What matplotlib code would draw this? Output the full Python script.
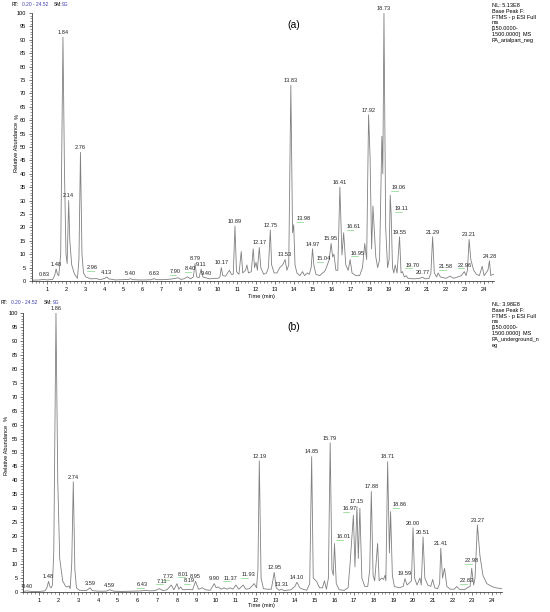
import numpy as np
import matplotlib
matplotlib.use("Agg")
import matplotlib.pyplot as plt
from matplotlib.ticker import MultipleLocator

plt.rcParams['font.family'] = ['Liberation Sans', 'DejaVu Sans']

# ---- panel (a): aerial part, retention time (min) / relative abundance (%)
rt_a = [0.20, 0.60, 0.83, 1.00, 1.30, 1.40, 1.48, 1.55, 1.62, 1.72, 1.84, 1.92, 2.00, 2.06,
        2.14, 2.20, 2.30, 2.45, 2.60, 2.68, 2.76, 2.84, 2.92, 2.96, 3.05, 3.30, 3.60, 3.80,
        4.05, 4.13, 4.25, 4.60, 5.00, 5.30, 5.40, 5.50, 5.90, 6.20, 6.50, 6.63, 6.75, 7.10,
        7.50, 7.70, 7.90, 8.05, 8.20, 8.40, 8.55, 8.70, 8.79, 8.88, 9.00, 9.11, 9.20, 9.40,
        9.55, 9.80, 10.00, 10.10, 10.17, 10.25, 10.40, 10.50, 10.60, 10.70, 10.80, 10.89,
        10.97, 11.10, 11.22, 11.30, 11.45, 11.52, 11.60, 11.75, 11.85, 11.92, 12.00, 12.07,
        12.17, 12.25, 12.40, 12.55, 12.65, 12.75, 12.82, 12.95, 13.10, 13.25, 13.40, 13.53,
        13.62, 13.72, 13.83, 13.92, 13.98, 14.05, 14.15, 14.30, 14.45, 14.55, 14.70, 14.80,
        14.90, 14.97, 15.04, 15.15, 15.35, 15.50, 15.60, 15.70, 15.85, 15.95, 16.03, 16.10,
        16.20, 16.30, 16.41, 16.52, 16.61, 16.72, 16.85, 16.95, 17.05, 17.25, 17.45, 17.60,
        17.72, 17.82, 17.92, 18.00, 18.08, 18.15, 18.30, 18.40, 18.50, 18.56, 18.62, 18.67,
        18.73, 18.82, 18.92, 19.00, 19.06, 19.11, 19.18, 19.25, 19.32, 19.42, 19.55, 19.63,
        19.70, 19.80, 19.90, 20.00, 20.30, 20.60, 20.77, 20.90, 21.10, 21.20, 21.29, 21.38,
        21.50, 21.58, 21.70, 22.00, 22.20, 22.40, 22.60, 22.80, 22.96, 23.05, 23.12, 23.21,
        23.30, 23.45, 23.60, 23.75, 23.90, 24.00, 24.10, 24.20, 24.28, 24.35, 24.45, 24.52]
ab_a = [0.3, 0.4, 0.6, 0.4, 0.6, 2.0, 4.5, 2.5, 2.0, 10.0, 91.0, 40.0, 10.0, 6.5,
        30.0, 15.0, 6.0, 2.5, 1.0, 8.0, 48.0, 10.0, 3.0, 2.5, 1.5, 0.8, 0.9, 0.5,
        1.0, 1.5, 0.8, 0.4, 0.5, 0.6, 0.9, 0.5, 0.4, 0.4, 0.5, 0.9, 0.5, 0.5,
        0.7, 0.9, 1.2, 0.6, 0.8, 1.6, 0.8, 1.5, 6.5, 1.5, 1.2, 4.5, 1.5, 1.1,
        0.8, 1.0, 1.0, 1.5, 5.0, 2.0, 1.8, 3.0, 4.0, 2.5, 2.5, 20.5,
        3.5, 2.5, 11.0, 3.0, 4.0, 6.0, 3.0, 3.5, 12.0, 5.0, 7.0, 4.0,
        12.5, 5.0, 2.5, 3.0, 5.0, 19.0, 6.0, 3.0, 3.0, 5.0, 6.0, 8.0,
        4.0, 6.0, 73.0, 18.0, 21.0, 6.0, 3.0, 2.0, 3.5, 2.0, 3.0, 2.5,
        5.0, 12.0, 6.0, 2.5, 2.0, 3.0, 3.5, 5.0, 8.0, 14.0, 9.0, 10.0,
        4.0, 4.0, 35.0, 9.7, 18.0, 6.0, 4.0, 8.0, 3.0, 2.0, 2.0, 5.0,
        14.0, 8.0, 62.0, 46.0, 12.0, 28.0, 9.0, 5.0, 8.0, 30.0, 54.0, 40.0,
        100.0, 20.0, 5.0, 8.0, 32.0, 24.5, 5.0, 3.0, 6.0, 3.0, 16.5, 3.0,
        3.5, 1.5, 2.0, 1.0, 0.8, 1.0, 1.4, 0.8, 1.0, 3.0, 16.5, 3.0,
        1.5, 3.0, 1.5, 1.0, 1.8, 1.0, 1.5, 2.0, 3.5, 2.0, 4.0, 15.5,
        8.0, 4.0, 2.5, 2.0, 5.5, 2.0, 3.0, 4.0, 7.5, 2.0, 2.5, 2.5]
peaks_a = [0.83, 1.48, 1.84, 2.14, 2.76, 2.96, 4.13, 5.40, 6.63, 7.90, 8.40, 8.79, 9.11,
           9.40, 10.17, 10.89, 12.17, 12.75, 13.53, 13.83, 13.98, 14.97, 15.04, 15.95,
           16.41, 16.61, 16.95, 17.92, 18.73, 19.06, 19.11, 19.55, 19.70, 20.77, 21.29,
           21.58, 22.96, 23.21, 24.28]
info_a = "NL: 5.13E8\nBase Peak F:\nFTMS - p ESI Full\nms\n[150.0000-\n1500.0000]  MS\nPA_arialpart_neg"

# ---- panel (b): underground part
rt_b = [0.20, 0.40, 0.60, 1.00, 1.30, 1.40, 1.48, 1.56, 1.62, 1.68, 1.75, 1.86, 1.95, 2.05,
        2.20, 2.35, 2.45, 2.52, 2.58, 2.66, 2.74, 2.82, 2.90, 3.05, 3.40, 3.59, 3.70, 4.00,
        4.40, 4.59, 4.80, 5.20, 5.80, 6.20, 6.43, 6.60, 6.90, 7.11, 7.30, 7.50, 7.72, 7.85,
        8.01, 8.10, 8.19, 8.30, 8.60, 8.80, 8.95, 9.10, 9.30, 9.45, 9.70, 9.90, 10.00, 10.10,
        10.25, 10.40, 10.55, 10.70, 10.85, 11.00, 11.15, 11.37, 11.50, 11.70, 11.93, 12.05,
        12.12, 12.19, 12.28, 12.40, 12.60, 12.80, 12.95, 13.05, 13.20, 13.31, 13.45, 13.80,
        14.00, 14.10, 14.25, 14.40, 14.60, 14.75, 14.85, 14.93, 15.10, 15.25, 15.40, 15.50,
        15.60, 15.70, 15.79, 15.88, 15.95, 16.01, 16.10, 16.25, 16.50, 16.70, 16.80, 16.97,
        17.05, 17.15, 17.22, 17.30, 17.40, 17.55, 17.70, 17.80, 17.88, 17.97, 18.05, 18.12,
        18.20, 18.28, 18.40, 18.50, 18.58, 18.62, 18.71, 18.80, 18.86, 18.95, 19.05, 19.30,
        19.50, 19.59, 19.70, 19.85, 19.92, 20.00, 20.08, 20.20, 20.35, 20.42, 20.51, 20.60,
        20.75, 20.90, 21.00, 21.10, 21.25, 21.35, 21.41, 21.50, 21.60, 21.72, 21.90, 22.10,
        22.22, 22.35, 22.60, 22.83, 22.90, 22.98, 23.08, 23.15, 23.27, 23.40, 23.55, 23.75,
        24.00, 24.20, 24.40, 24.52]
ab_b = [0.2, 0.4, 0.2, 0.2, 0.4, 1.5, 3.8, 1.8, 1.5, 2.5, 15.0, 100.0, 40.0, 12.0,
        4.0, 2.0, 1.8, 2.2, 1.2, 10.0, 39.5, 8.0, 1.5, 0.6, 0.5, 1.5, 0.5, 0.3,
        0.3, 0.8, 0.3, 0.2, 0.3, 0.4, 0.6, 0.4, 0.5, 1.2, 0.5, 0.8, 2.5, 0.8,
        3.0, 1.0, 1.8, 0.8, 0.9, 0.8, 3.8, 1.0, 1.5, 0.8, 0.6, 3.0, 1.5, 1.8,
        1.0, 1.5, 1.0, 1.5, 1.0, 2.5, 1.0, 2.5, 1.0, 1.2, 3.0, 1.5,
        8.0, 47.0, 5.0, 1.2, 1.0, 1.0, 7.0, 1.5, 0.6, 1.0, 0.5, 0.8,
        2.0, 3.5, 1.5, 1.0, 0.6, 3.0, 48.5, 5.0, 3.8, 1.5, 1.5, 4.0,
        1.0, 5.0, 53.5, 8.0, 6.0, 17.4, 3.0, 0.8, 0.6, 1.5, 10.0, 27.5,
        9.0, 30.6, 12.0, 30.0, 5.0, 2.0, 2.0, 8.0, 36.0, 6.0, 4.0, 10.0,
        17.4, 4.0, 5.0, 4.5, 6.0, 4.0, 46.7, 14.0, 28.8, 6.0, 2.0, 1.5,
        2.0, 4.8, 2.5, 3.5, 4.0, 23.0, 5.0, 2.5, 5.0, 2.5, 19.7, 5.0,
        2.5, 2.0, 4.5, 1.5, 1.2, 3.0, 15.7, 5.0, 8.5, 2.0, 1.0, 1.0,
        2.0, 1.0, 0.8, 1.8, 2.0, 8.5, 2.5, 5.0, 24.0, 13.0, 6.0, 3.0,
        2.0, 1.5, 1.3, 1.2]
peaks_b = [0.40, 1.48, 1.86, 2.74, 3.59, 4.59, 6.43, 7.11, 7.72, 8.01, 8.19, 8.95, 9.90,
           11.37, 11.93, 12.19, 12.95, 13.31, 14.10, 14.85, 15.79, 16.01, 16.97, 17.15,
           17.88, 18.71, 18.86, 19.59, 20.00, 20.51, 21.41, 22.83, 22.98, 23.27]
info_b = "NL: 3.98E8\nBase Peak F:\nFTMS - p ESI Full\nms\n[150.0000-\n1500.0000]  MS\nPA_underground_n\neg"

# labels drawn beside the peak with a green leader: (dx in min, lift in %)
side_a = {2.96: (0.1, 0.5), 7.90: (-0.5, 0.5), 8.40: (-0.2, 1.0), 13.98: (0.1, 0.5),
          15.04: (0.1, 0.5), 16.61: (0.1, 0.5), 16.95: (0.0, 0.5), 19.06: (0.0, 1.0),
          19.11: (0.15, 0.5), 19.70: (0.1, 0.5), 21.58: (0.0, 0.5), 22.96: (-0.4, 0.5)}
side_b = {6.43: (-0.5, 0.3), 7.11: (-0.2, 0.8), 7.72: (-0.5, 1.0), 8.01: (0.0, 1.5),
          8.19: (0.1, 0.3), 11.37: (-1.05, 0.6), 11.93: (-0.7, 1.2), 16.01: (0.05, 0.5),
          16.97: (-0.6, 0.5), 18.86: (0.05, 0.5), 22.83: (-0.5, 0.3), 22.98: (-0.4, 1.0)}

W, H = 550, 612
FS = 4.1
fig = plt.figure(figsize=(W / 100, H / 100), dpi=100)


def px(x0, y0, x1, y1):
    return [x0 / W, 1 - y1 / H, (x1 - x0) / W, (y1 - y0) / H]


def panel(ax, rt, ab, peaks, side, tag, tag_pos):
    ax.plot(rt, ab, color='#808080', lw=0.6)
    ax.set_xlim(0.2, 24.52)
    ax.set_ylim(0, 100)
    for s in ['top', 'right']:
        ax.spines[s].set_visible(False)
    for s in ['left', 'bottom']:
        ax.spines[s].set_color('#404040')
        ax.spines[s].set_linewidth(0.6)
    ax.xaxis.set_major_locator(MultipleLocator(1))
    ax.xaxis.set_minor_locator(MultipleLocator(0.2))
    ax.yaxis.set_major_locator(MultipleLocator(5))
    ax.yaxis.set_minor_locator(MultipleLocator(1))
    ax.tick_params(which='major', length=2.5, width=0.5, labelsize=FS, pad=1.5, color='#404040')
    ax.tick_params(which='minor', length=1.3, width=0.4, color='#404040')
    ax.set_xticks(range(1, 25))
    for p in peaks:
        y = np.interp(p, rt, ab)
        lab = f"{p:.2f}"
        if p in side:
            dx, lift = side[p]
            yl = y + 1.0 + lift
            ax.plot([p + dx + 0.05, p + dx + 0.4], [yl - 0.3, yl - 0.3], color='#7fd67f', lw=0.5)
            ax.text(p + dx + 0.05, yl, lab, fontsize=FS, ha='left', va='bottom', color='#222222')
        else:
            ax.text(p, y + 0.8, lab, fontsize=FS, ha='center', va='bottom', color='#222222')
    ax.text(tag_pos[0], tag_pos[1], tag, transform=ax.transAxes, fontsize=7.5, ha='left', va='center')


ax1 = fig.add_axes(px(31.8, 13, 494, 281))
panel(ax1, rt_a, ab_a, peaks_a, side_a, '(a)', (0.552, 0.955))
ax2 = fig.add_axes(px(23.3, 313, 502, 592))
panel(ax2, rt_b, ab_b, peaks_b, side_b, '(b)', (0.552, 0.95))


def header(y, parts):
    for x, txt, col in parts:
        fig.text(x / W, 1 - y / H, txt, fontsize=3.5, color=col, va='center', ha='left')


header(4, [(12, "RT:", 'black'), (22, "0.20 - 24.52", '#3a3ab0'),
           (53.5, "SM:", 'black'), (62, "9G", '#3a3ab0')])
header(303, [(1, "RT:", 'black'), (11, "0.20 - 24.52", '#3a3ab0'),
             (44, "SM:", 'black'), (52.5, "9G", '#3a3ab0')])

fig.text(492 / W, 1 - 3 / H, info_a, fontsize=4.0, va='top', ha='left', linespacing=1.2)
fig.text(492 / W, 1 - 302 / H, info_b, fontsize=4.0, va='top', ha='left', linespacing=1.2)

for yc, yp, xc in [(147, 116, 17), (450, 418, 6)]:
    fig.text(xc / W, 1 - yc / H, "Relative Abundance", fontsize=FS, rotation=90, ha='center', va='center')
    fig.text(xc / W, 1 - yp / H, "%", fontsize=FS, rotation=90, ha='center', va='center')

fig.text(275 / W, 1 - 296 / H, "Time (min)", fontsize=FS, ha='right', va='center')
fig.text(275 / W, 1 - 606 / H, "Time (min)", fontsize=FS, ha='right', va='center')

fig.savefig('out.png', dpi=100)
